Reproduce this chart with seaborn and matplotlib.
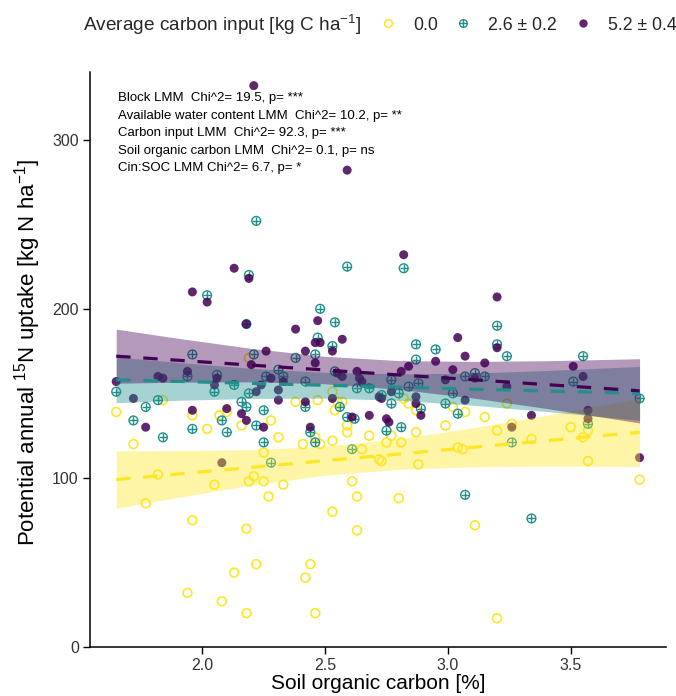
import matplotlib
matplotlib.use("Agg")
import matplotlib.pyplot as plt
import seaborn as sns
from matplotlib.lines import Line2D

# points per carbon input group (SOC %, 15N uptake)
soc_0 = [2.19, 2.53, 1.84, 2.38, 2.47, 2.55, 2.57, 2.54, 1.65, 1.96,
         2.10, 2.07, 2.28, 2.16, 2.02, 2.59, 2.59, 2.68, 2.46, 2.31,
         1.72, 2.25, 2.41, 2.48, 2.53, 2.65, 1.82, 2.05, 2.19, 2.21,
         2.25, 2.33, 2.27, 1.77, 2.61, 2.63, 2.53, 2.63, 1.96, 2.18,
         2.22, 2.44, 2.13, 2.42, 1.94, 2.08, 2.18, 2.46, 2.72,
         2.82, 2.84, 2.87, 3.02, 3.07, 3.24, 3.15, 2.75, 2.77, 2.81,
         2.87, 2.99, 2.73, 2.88, 3.04, 3.06, 3.20, 3.26, 3.34, 3.50,
         3.55, 3.57, 3.57, 3.78, 2.80, 3.11, 3.20]
upt_0 = [171, 151, 146, 145, 146, 145, 145, 140, 139, 137,
         139, 137, 134, 131, 129, 131, 127, 125, 124, 124,
         120, 115, 120, 120, 122, 117, 102, 96, 98, 101,
         98, 96, 89, 85, 98, 89, 80, 69, 75, 70,
         49, 49, 44, 41, 32, 27, 20, 20, 111,
         147, 144, 140, 142, 139, 144, 136, 121, 125, 121,
         127, 131, 110, 108, 118, 117, 128, 132, 123, 130,
         124, 128, 110, 99, 88, 72, 17]

soc_26 = [2.22, 2.59, 2.19, 2.02, 2.48, 2.54, 2.18, 2.47, 2.53, 2.46,
          1.96, 2.21, 2.38, 2.31, 2.54, 1.94, 2.06, 2.26, 2.33, 1.65,
          2.05, 2.13, 2.19, 2.42, 2.63, 2.68, 1.82, 2.56, 2.16, 2.18,
          2.42, 1.77, 2.25, 1.72, 2.08, 2.22, 1.96, 2.62, 2.59, 2.44,
          1.84, 2.10, 2.25, 2.46, 2.61, 2.28,
          2.82, 3.20, 2.87, 2.95, 3.20, 3.24, 3.55, 2.87, 3.11, 3.15,
          3.07, 3.51, 2.77, 2.88, 2.84, 2.80, 2.73, 3.02, 2.77, 2.99,
          2.89, 3.04, 3.78, 2.75, 2.81, 3.26, 3.57, 3.07, 3.34]
upt_26 = [252, 225, 220, 208, 200, 192, 191, 183, 178, 173,
          173, 173, 171, 164, 163, 160, 161, 160, 160, 151,
          151, 155, 150, 157, 153, 153, 146, 142, 145, 142,
          142, 142, 140, 134, 134, 131, 129, 135, 136, 127,
          124, 127, 121, 121, 117, 109,
          224, 190, 179, 176, 179, 172, 172, 170, 162, 160,
          160, 157, 158, 156, 154, 150, 149, 150, 144, 144,
          141, 138, 147, 128, 130, 121, 132, 90, 76]

soc_52 = [2.21, 2.59, 2.13, 2.19, 1.96, 2.02, 2.47, 2.18, 2.38, 2.57,
          2.46, 2.48, 2.53, 2.42, 2.26, 2.20, 2.46, 2.63, 2.55, 1.82,
          1.84, 1.94, 2.06, 2.28, 2.33, 2.57, 2.64, 2.65, 1.65, 2.05,
          2.24, 2.22, 2.31, 2.72, 1.72, 2.31, 2.42, 2.53, 1.96, 2.10,
          2.16, 2.18, 2.25, 1.77, 2.44, 2.61, 2.68, 2.08,
          2.82, 3.20, 3.04, 3.20, 3.07, 2.95, 3.15, 2.84, 3.51, 3.02,
          2.81, 3.11, 3.55, 2.99, 3.24, 2.77, 2.73, 2.87, 3.07, 2.87,
          2.89, 3.57, 3.57, 3.34, 2.76, 2.75, 3.26, 3.78]
upt_52 = [332, 282, 224, 218, 210, 204, 193, 191, 188, 182,
          180, 180, 175, 175, 175, 167, 168, 163, 162, 160,
          159, 163, 159, 159, 157, 160, 159, 157, 157, 155,
          155, 151, 152, 148, 147, 146, 145, 147, 140, 141,
          138, 134, 130, 130, 130, 136, 137, 109,
          232, 207, 183, 177, 172, 169, 168, 166, 166, 164,
          163, 159, 160, 158, 154, 151, 147, 148, 146, 144,
          137, 140, 135, 137, 133, 135, 130, 112]

# fitted lines and confidence ribbons
fit_x = [1.65, 1.9, 2.2, 2.5, 2.8, 3.1, 3.4, 3.78]
fit_0 = [99, 102.3, 106.2, 110.2, 114.1, 118.1, 122.0, 127.0]
lo_0 = [82.0, 88.5, 95.7, 101.6, 105.1, 106.6, 107.0, 106.8]
hi_0 = [116.0, 116.1, 116.7, 118.8, 123.1, 129.6, 137.0, 147.2]
fit_26 = [158, 157.1, 155.9, 154.8, 153.7, 152.5, 151.4, 150.0]
lo_26 = [144.5, 145.9, 147.0, 147.2, 145.9, 143.0, 139.3, 134.1]
hi_26 = [171.5, 168.3, 164.8, 162.4, 161.5, 162.0, 163.5, 165.9]
fit_52 = [172, 169.6, 166.7, 163.8, 160.9, 158.1, 155.2, 151.5]
lo_52 = [156.0, 156.6, 156.8, 155.7, 152.4, 147.3, 141.1, 132.5]
hi_52 = [188.0, 182.6, 176.6, 171.9, 169.4, 168.9, 169.3, 170.5]

group_labels = ['0.0', '2.6 ± 0.2', '5.2 ± 0.4']
stats_text = ['Block LMM  Chi^2= 19.5, p= ***',
              'Available water content LMM  Chi^2= 10.2, p= **',
              'Carbon input LMM  Chi^2= 92.3, p= ***',
              'Soil organic carbon LMM  Chi^2= 0.1, p= ns',
              'Cin:SOC LMM Chi^2= 6.7, p= *']

yellow = '#FDE725'
teal = '#21908C'
purple = '#440154'

sns.set_theme(style='ticks')
plt.rcParams['font.family'] = ['Liberation Sans', 'DejaVu Sans']
plt.rcParams['mathtext.fontset'] = 'custom'
plt.rcParams['mathtext.rm'] = 'Liberation Sans'
plt.rcParams['mathtext.it'] = 'Liberation Sans'

fig = plt.figure(figsize=(6.76, 6.96), dpi=100)
ax = fig.add_axes([0.133, 0.0704, 0.852, 0.826])

sns.scatterplot(x=soc_0, y=upt_0, ax=ax, marker='o', s=40, facecolor='none',
                edgecolor=yellow, linewidth=1.2, legend=False)
sns.scatterplot(x=soc_26, y=upt_26, ax=ax, marker='o', s=40, facecolor='none',
                edgecolor=teal, linewidth=1.0, legend=False)
sns.scatterplot(x=soc_26, y=upt_26, ax=ax, marker='+', s=40, color=teal,
                linewidth=1.0, legend=False)
sns.scatterplot(x=soc_52, y=upt_52, ax=ax, marker='o', s=42, color=purple,
                edgecolor='none', alpha=0.85, legend=False)

for fit, lo, hi, col in [(fit_0, lo_0, hi_0, yellow),
                         (fit_26, lo_26, hi_26, teal),
                         (fit_52, lo_52, hi_52, purple)]:
    ax.fill_between(fit_x, lo, hi, color=col, alpha=0.4, linewidth=0)
    sns.lineplot(x=fit_x, y=fit, ax=ax, color=col, linewidth=2.3,
                 dashes=False, linestyle=(0, (4.5, 4)))

for i, t in enumerate(stats_text):
    ax.text(0.049, 0.955 - i * 0.0305, t, transform=ax.transAxes,
            fontsize=9.5, va='center', ha='left', color='black')

ax.set_xlim(1.543, 3.887)
ax.set_ylim(0, 340)
ax.set_xticks([2.0, 2.5, 3.0, 3.5])
ax.set_xticklabels(['2.0', '2.5', '3.0', '3.5'])
ax.set_yticks([0, 100, 200, 300])
ax.tick_params(axis='both', labelsize=11.5, length=5, width=1, color='black',
               labelcolor='#333333', direction='out', pad=3)
for side in ['top', 'right']:
    ax.spines[side].set_visible(False)
for side in ['left', 'bottom']:
    ax.spines[side].set_color('black')
    ax.spines[side].set_linewidth(1.1)

ax.set_xlabel('Soil organic carbon [%]', fontsize=15, color='black')
ax.set_ylabel('Potential annual $^{15}$N uptake [kg N ha$^{-1}$]', fontsize=16, color='black')
ax.yaxis.set_label_coords(-0.082, 0.513)
ax.xaxis.set_label_coords(0.5, -0.047)

fig.text(0.123, 0.964, 'Average carbon input [kg C ha$^{-1}$]', fontsize=13.7,
         va='center', ha='left')
handles = [Line2D([], [], marker='o', ls='none', mfc='none', mec=yellow, mew=1.2, ms=5.5),
           (Line2D([], [], marker='o', ls='none', mfc='none', mec=teal, mew=1.0, ms=5.5),
            Line2D([], [], marker='+', ls='none', mec=teal, mew=1.0, ms=5.5)),
           Line2D([], [], marker='o', ls='none', mfc=purple, mec='none', alpha=0.85, ms=6)]
fig.legend(handles, group_labels, loc='center left', bbox_to_anchor=(0.537, 0.964),
           ncol=3, frameon=False, fontsize=12.8, handlelength=1.0, handletextpad=0.9,
           columnspacing=0.95)

fig.savefig('out.png', dpi=100, facecolor='white')
